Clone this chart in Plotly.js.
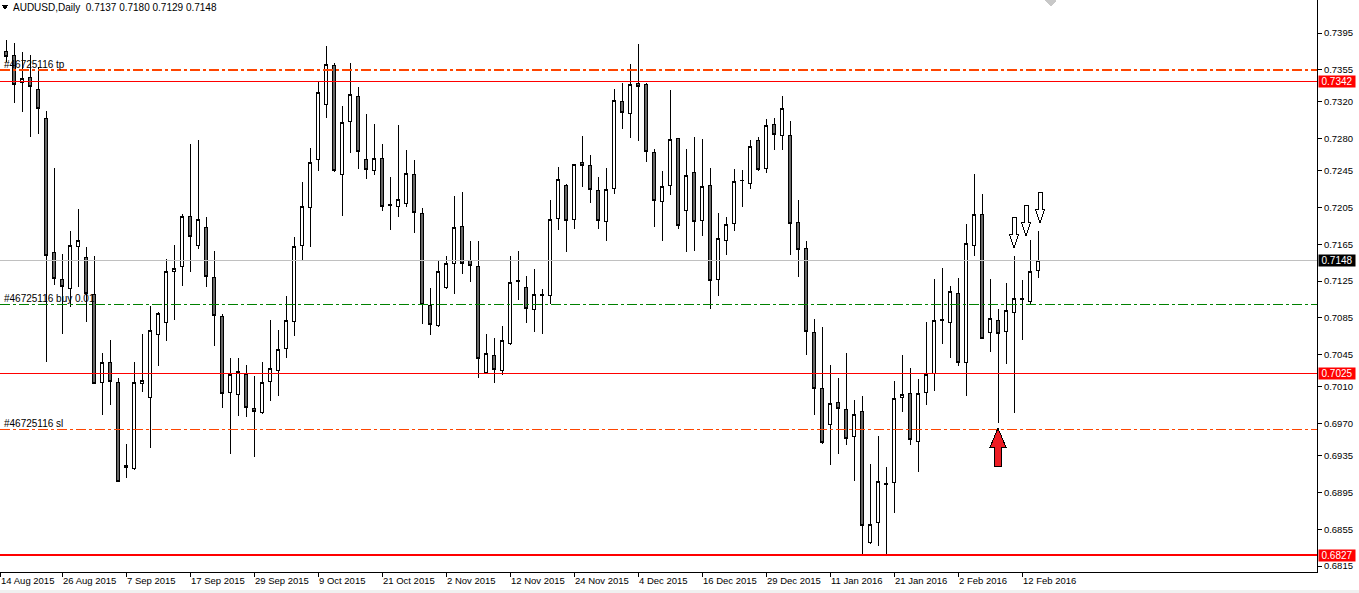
<!DOCTYPE html>
<html><head><meta charset="utf-8">
<script src="https://cdn.plot.ly/plotly-3.0.1.min.js"></script>
<style>
html,body{margin:0;padding:0;background:#fff;overflow:hidden;}
#chart{width:1359px;height:593px;}
.js-plotly-plot .plotly .trace path{shape-rendering:crispEdges;}
.js-plotly-plot .plotly .shapelayer path{shape-rendering:crispEdges;}
</style></head><body><div id="chart"></div>
<script>
// ---- AUDUSD daily candles (14 Aug 2015 .. 16 Feb 2016) ----
const openP = [0.7374,0.7375,0.7371,0.7341,0.7347,0.7334,0.7302,0.7156,0.7127,0.7117,
0.7163,0.7151,0.7111,0.7015,0.7036,0.7015,0.6925,0.6921,0.7014,0.6998,
0.7067,0.7080,0.7136,0.7141,0.7195,0.7164,0.7183,0.7129,0.7087,0.7004,
0.7002,0.7024,0.6986,0.6982,0.7016,0.7028,0.7052,0.7081,0.7164,0.7205,
0.7257,0.7317,0.7360,0.7241,0.7299,0.7326,0.7257,0.7245,0.7259,0.7208,
0.7206,0.7209,0.7241,0.7199,0.7099,0.7077,0.7118,0.7144,0.7184,0.7147,
0.7141,0.7026,0.7044,0.7028,0.7057,0.7126,0.7118,0.7094,0.7110,0.7109,
0.7193,0.7229,0.7192,0.7254,0.7251,0.7224,0.7190,0.7226,0.7321,0.7307,
0.7340,0.7339,0.7265,0.7212,0.7229,0.7280,0.7202,0.7243,0.7191,0.7229,
0.7127,0.7169,0.7188,0.7235,0.7231,0.7278,0.7248,0.7295,0.7284,0.7283,
0.7189,0.7161,0.7069,0.7008,0.6969,0.6993,0.6985,0.6956,0.6983,0.6841,
0.6863,0.6905,0.6906,0.6998,0.7003,0.6951,0.7004,0.7025,0.7082,0.7080,
0.7112,0.7037,0.7164,0.7197,0.7069,0.7082,0.7070,0.7091,0.7106,0.7103,
0.7137];
const highP = [0.7383,0.7387,0.7384,0.7374,0.7371,0.7358,0.7310,0.7248,0.7155,0.7180,
0.7204,0.7162,0.7152,0.7047,0.7061,0.7020,0.6948,0.7037,0.7068,0.7098,
0.7091,0.7149,0.7164,0.7198,0.7274,0.7279,0.7195,0.7158,0.7089,0.7041,
0.7041,0.7034,0.7022,0.7037,0.7083,0.7072,0.7109,0.7173,0.7233,0.7270,
0.7342,0.7381,0.7362,0.7316,0.7362,0.7336,0.7307,0.7296,0.7274,0.7238,
0.7295,0.7268,0.7257,0.7205,0.7118,0.7147,0.7152,0.7218,0.7222,0.7169,
0.7169,0.7068,0.7063,0.7076,0.7152,0.7158,0.7131,0.7138,0.7116,0.7213,
0.7249,0.7231,0.7253,0.7283,0.7262,0.7238,0.7248,0.7334,0.7341,0.7361,
0.7383,0.7341,0.7269,0.7245,0.7333,0.7281,0.7269,0.7282,0.7280,0.7248,
0.7199,0.7195,0.7247,0.7246,0.7279,0.7282,0.7301,0.7303,0.7326,0.7299,
0.7213,0.7169,0.7084,0.7075,0.7034,0.7020,0.7047,0.6996,0.7000,0.6926,
0.6957,0.6923,0.7016,0.7045,0.7031,0.7019,0.7081,0.7127,0.7139,0.7120,
0.7128,0.7187,0.7242,0.7220,0.7127,0.7095,0.7123,0.7152,0.7126,0.7170,
0.7180];
const lowP = [0.7361,0.7363,0.7319,0.7309,0.7282,0.7285,0.7037,0.7121,0.7068,0.7097,
0.7119,0.7081,0.7013,0.6979,0.6990,0.6906,0.6911,0.6920,0.7004,0.6944,
0.7033,0.7060,0.7083,0.7120,0.7135,0.7160,0.7119,0.7055,0.6987,0.6937,
0.6978,0.6977,0.6934,0.6981,0.6995,0.7000,0.7041,0.7065,0.7147,0.7162,
0.7245,0.7303,0.7244,0.7196,0.7264,0.7247,0.7236,0.7240,0.7201,0.7181,
0.7195,0.7206,0.7177,0.7078,0.7066,0.7075,0.7116,0.7111,0.7133,0.7124,
0.7020,0.7025,0.7014,0.7023,0.7056,0.7104,0.7079,0.7070,0.7067,0.7100,
0.7181,0.7157,0.7182,0.7227,0.7210,0.7182,0.7169,0.7220,0.7291,0.7281,
0.7278,0.7255,0.7184,0.7169,0.7219,0.7182,0.7157,0.7158,0.7174,0.7095,
0.7109,0.7153,0.7180,0.7206,0.7225,0.7245,0.7243,0.7268,0.7268,0.7154,
0.7130,0.7045,0.6979,0.6948,0.6925,0.6937,0.6947,0.6908,0.6826,0.6839,
0.6837,0.6826,0.6873,0.6983,0.6947,0.6917,0.6990,0.7006,0.7057,0.7041,
0.7033,0.7000,0.7152,0.7062,0.7048,0.6971,0.7035,0.6982,0.7061,0.7100,
0.7129];
const closeP = [0.7369,0.7369,0.7339,0.7346,0.7337,0.7313,0.7153,0.7128,0.7119,0.7164,
0.7169,0.7112,0.7014,0.7037,0.7016,0.6907,0.6922,0.7015,0.7017,0.7071,
0.7090,0.7135,0.7139,0.7195,0.7174,0.7192,0.7130,0.7088,0.7003,0.7023,
0.7027,0.6988,0.6983,0.7015,0.7030,0.7051,0.7082,0.7163,0.7206,0.7254,
0.7330,0.7361,0.7245,0.7298,0.7328,0.7266,0.7246,0.7258,0.7206,0.7207,
0.7214,0.7242,0.7200,0.7100,0.7078,0.7135,0.7144,0.7183,0.7144,0.7142,
0.7041,0.7046,0.7029,0.7060,0.7124,0.7125,0.7095,0.7110,0.7109,0.7192,
0.7236,0.7191,0.7252,0.7251,0.7225,0.7191,0.7225,0.7322,0.7308,0.7339,
0.7337,0.7266,0.7213,0.7228,0.7279,0.7186,0.7240,0.7190,0.7228,0.7126,
0.7171,0.7187,0.7233,0.7234,0.7271,0.7247,0.7294,0.7285,0.7313,0.7188,
0.7160,0.7070,0.7008,0.6949,0.6992,0.6986,0.6954,0.6980,0.6859,0.6860,
0.6907,0.6904,0.6997,0.7002,0.6953,0.7003,0.7024,0.7082,0.7083,0.7114,
0.7036,0.7166,0.7198,0.7063,0.7084,0.7068,0.7093,0.7106,0.7105,0.7135,
0.7148];

const xTickLabels = ['14 Aug 2015','26 Aug 2015','7 Sep 2015','17 Sep 2015','29 Sep 2015',
'9 Oct 2015','21 Oct 2015','2 Nov 2015','12 Nov 2015','24 Nov 2015','4 Dec 2015',
'16 Dec 2015','29 Dec 2015','11 Jan 2016','21 Jan 2016','2 Feb 2016','12 Feb 2016'];
const yTickValues = [0.7395,0.7355,0.7320,0.7280,0.7245,0.7205,0.7165,0.7125,0.7085,
0.7045,0.7010,0.6970,0.6935,0.6895,0.6855,0.6815];

const symbolTitle = 'AUDUSD,Daily';
const ohlcLast = [0.7137, 0.7180, 0.7129, 0.7148];
const levelLines = [0.7342, 0.7025, 0.6827];      // red horizontal lines
const bidPrice = 0.7148;
const orderPrices = [0.7355, 0.7100, 0.6964];     // tp, buy, sl
const orderLabels = ['#46725116 tp', '#46725116 buy 0.01', '#46725116 sl'];
const buyArrowIdx = [125], buyArrowPrice = [0.6965];
const sellArrowIdx = [127, 128.5, 130.25], sellArrowPrice = [0.7161, 0.7174, 0.7188];

// ---- drawing ----
const FONT = 'Liberation Sans, Arial, sans-serif';
const idx = openP.map((_, i) => i);
const barsPerLabel = 8;
const xStart = 0.25, xEnd = 164.875;
const tickPos = xTickLabels.map((_, k) => Math.max(k * barsPerLabel, xStart + 0.01));

const trace = {
  type: 'candlestick', x: idx, open: openP, high: highP, low: lowP, close: closeP,
  increasing: {line: {color: '#000000', width: 1}, fillcolor: '#ffffff'},
  decreasing: {line: {color: '#000000', width: 1}, fillcolor: '#666666'},
  whiskerwidth: 0, hoverinfo: 'skip', showlegend: false
};

const shapes = [];
const annotations = [];
const orderColors = ['#FF4500', '#008000', '#FF4500'];
const orderWidths = [2, 1, 1];
orderPrices.forEach((p, k) => {
  shapes.push({type: 'line', xref: 'paper', x0: 0, x1: 1, yref: 'y', y0: p, y1: p,
    line: {color: orderColors[k], width: orderWidths[k], dash: '10px,3px,3px,3px'}});
  annotations.push({xref: 'paper', x: 0, xanchor: 'left', xshift: 2, yref: 'y', y: p,
    yanchor: 'bottom', yshift: -2, text: orderLabels[k], showarrow: false,
    font: {family: FONT, size: 10, color: '#000000'}});
});
const levelWidths = [1, 1, 2];
levelLines.forEach((p, k) => {
  shapes.push({type: 'line', xref: 'paper', x0: 0, x1: 1, yref: 'y', y0: p, y1: p,
    line: {color: '#FF0000', width: levelWidths[k]}});
  annotations.push({xref: 'paper', x: 1, xanchor: 'left', xshift: 1, yref: 'y', y: p,
    yanchor: 'middle', text: p.toFixed(4), showarrow: false, bgcolor: '#FF0000',
    width: 34, height: 9, borderpad: 1, font: {family: FONT, size: 10, color: '#ffffff'}});
});
shapes.push({type: 'line', xref: 'paper', x0: 0, x1: 1, yref: 'y', y0: bidPrice, y1: bidPrice,
  line: {color: '#C0C0C0', width: 1}});
annotations.push({xref: 'paper', x: 1, xanchor: 'left', xshift: 1, yref: 'y', y: bidPrice,
  yanchor: 'middle', text: bidPrice.toFixed(4), showarrow: false, bgcolor: '#000000',
  width: 34, height: 9, borderpad: 1, font: {family: FONT, size: 10, color: '#ffffff'}});

// signal arrows (pixel-sized, anchored at bar/price)
buyArrowIdx.forEach((xi, k) => {
  shapes.push({type: 'path', xref: 'x', yref: 'y', xsizemode: 'pixel', ysizemode: 'pixel',
    xanchor: xi, yanchor: buyArrowPrice[k],
    path: 'M0,0 L8,-19 L3.5,-19 L3.5,-38 L-3.5,-38 L-3.5,-19 L-8,-19 Z',
    fillcolor: '#ED1C24', line: {color: '#000000', width: 1}});
});
sellArrowIdx.forEach((xi, k) => {
  shapes.push({type: 'path', xref: 'x', yref: 'y', xsizemode: 'pixel', ysizemode: 'pixel',
    xanchor: xi, yanchor: sellArrowPrice[k],
    path: 'M0,0 L4.5,14 L2,14 L2,31 L-2,31 L-2,14 L-4.5,14 Z',
    fillcolor: '#ffffff', line: {color: '#000000', width: 1}});
});
// chart-shift marker at top
shapes.push({type: 'path', xref: 'paper', yref: 'paper', xsizemode: 'pixel', ysizemode: 'pixel',
  xanchor: 0.798, yanchor: 1, path: 'M-7,2 L7,2 L0,-6 Z', fillcolor: '#C8C8C8',
  line: {color: '#C8C8C8', width: 1}});
// title triangle
shapes.push({type: 'path', xref: 'paper', yref: 'paper', xsizemode: 'pixel', ysizemode: 'pixel',
  xanchor: 0, yanchor: 1, path: 'M2,-5 L8,-5 L5,-9 Z', fillcolor: '#000000',
  line: {color: '#000000', width: 1}});
// window frame band at the bottom
shapes.push({type: 'rect', xref: 'paper', yref: 'paper', x0: -0.01, x1: 1.05,
  y0: -0.0367, y1: -0.0316, fillcolor: '#F0F0F0', line: {width: 0}});

annotations.push({xref: 'paper', x: 0, xanchor: 'left', xshift: 11, yref: 'paper', y: 1,
  yanchor: 'top', text: symbolTitle + '\u00a0\u00a0' + ohlcLast.map(v => v.toFixed(4)).join(' '),
  showarrow: false, font: {family: FONT, size: 10, color: '#000000'}});

const layout = {
  width: 1359, height: 593,
  margin: {l: 0, r: 42, t: 0, b: 21, pad: 0},
  paper_bgcolor: '#ffffff', plot_bgcolor: '#ffffff',
  showlegend: false, dragmode: false,
  boxgap: 0.3, boxgroupgap: 0.3,
  xaxis: {type: 'linear', range: [xStart, xEnd], rangeslider: {visible: false},
    tickvals: tickPos, ticktext: xTickLabels, tickangle: 0, ticks: 'outside', ticklen: 4,
    tickcolor: '#000000', ticklabelposition: 'outside right',
    showgrid: false, zeroline: false, showline: true, linecolor: '#000000', linewidth: 1,
    tickfont: {family: FONT, size: 9.5, color: '#000000'}, fixedrange: true},
  yaxis: {side: 'right', range: [0.68086, 0.74309], tickvals: yTickValues,
    tickformat: '.4f', ticks: 'outside', ticklen: 4, tickcolor: '#000000',
    showgrid: false, zeroline: false, showline: true, linecolor: '#000000', linewidth: 1,
    tickfont: {family: FONT, size: 9.5, color: '#000000'}, fixedrange: true},
  shapes: shapes, annotations: annotations
};

Plotly.newPlot('chart', [trace], layout, {displayModeBar: false, staticPlot: true});
</script></body></html>
